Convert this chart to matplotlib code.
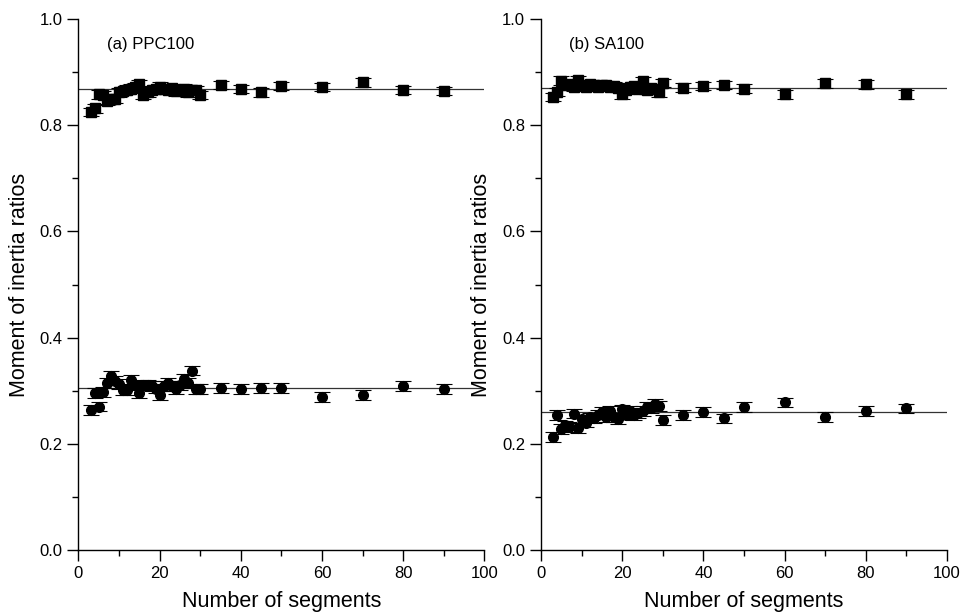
import numpy as np
import matplotlib
matplotlib.use("Agg")
import matplotlib.pyplot as plt
from matplotlib.ticker import MultipleLocator

plt.rcParams['font.family'] = ['Liberation Sans', 'DejaVu Sans']

# ---- data ----
seg_a = [3, 4, 5, 6, 7, 8, 9, 10, 11, 12, 13, 14, 15, 16, 17, 18, 19, 20,
         21, 22, 23, 24, 25, 26, 27, 28, 29, 30, 35, 40, 45, 50, 60, 70, 80, 90]
ppc_high = [0.825, 0.832, 0.858, 0.857, 0.846, 0.849, 0.850, 0.862, 0.865, 0.867,
            0.869, 0.872, 0.878, 0.857, 0.862, 0.866, 0.868, 0.873, 0.868, 0.866,
            0.870, 0.864, 0.867, 0.869, 0.862, 0.866, 0.866, 0.857, 0.876, 0.868,
            0.862, 0.874, 0.872, 0.881, 0.866, 0.865]
ppc_high_err = [0.008] * len(seg_a)
ppc_low = [0.264, 0.296, 0.270, 0.298, 0.315, 0.328, 0.319, 0.313, 0.301, 0.301,
           0.321, 0.310, 0.295, 0.311, 0.311, 0.309, 0.304, 0.292, 0.309, 0.315,
           0.309, 0.303, 0.310, 0.323, 0.315, 0.338, 0.303, 0.303, 0.305, 0.303,
           0.305, 0.305, 0.288, 0.292, 0.309, 0.303]
ppc_low_err = [0.009] * len(seg_a)
ppc_high_mean = 0.868
ppc_low_mean = 0.305

seg_b = [3, 4, 5, 6, 7, 8, 9, 10, 11, 12, 13, 14, 15, 16, 17, 18, 19, 20,
         21, 22, 23, 24, 25, 26, 27, 28, 29, 30, 35, 40, 45, 50, 60, 70, 80, 90]
sa_high = [0.853, 0.863, 0.884, 0.875, 0.878, 0.872, 0.885, 0.876, 0.872, 0.878,
           0.876, 0.872, 0.875, 0.876, 0.872, 0.874, 0.870, 0.858, 0.866, 0.872,
           0.874, 0.868, 0.883, 0.866, 0.870, 0.868, 0.862, 0.880, 0.871, 0.874,
           0.876, 0.869, 0.858, 0.879, 0.877, 0.858]
sa_high_err = [0.008] * len(seg_b)
sa_low = [0.213, 0.254, 0.228, 0.235, 0.232, 0.257, 0.230, 0.246, 0.240, 0.250,
          0.248, 0.255, 0.260, 0.250, 0.262, 0.250, 0.246, 0.265, 0.255, 0.262,
          0.254, 0.258, 0.262, 0.270, 0.268, 0.275, 0.271, 0.245, 0.254, 0.260,
          0.248, 0.269, 0.278, 0.251, 0.262, 0.267]
sa_low_err = [0.009] * len(seg_b)
sa_high_mean = 0.870
sa_low_mean = 0.260

panels = [
    ("(a) PPC100", seg_a, ppc_high, ppc_high_err, ppc_low, ppc_low_err, ppc_high_mean, ppc_low_mean),
    ("(b) SA100", seg_b, sa_high, sa_high_err, sa_low, sa_low_err, sa_high_mean, sa_low_mean),
]

fig = plt.figure(figsize=(9.62, 6.16), dpi=100)
ax_pos = [[0.0816, 0.107, 0.422, 0.862], [0.5624, 0.107, 0.422, 0.862]]

for pos, (title, x, hi, hi_err, lo, lo_err, hi_mean, lo_mean) in zip(ax_pos, panels):
    ax = fig.add_axes(pos)
    ax.errorbar(x, hi, yerr=hi_err, fmt='s', color='black', ms=7.5, capsize=5.5,
                elinewidth=0.8, capthick=0.8, zorder=3)
    ax.errorbar(x, lo, yerr=lo_err, fmt='o', color='black', ms=7, capsize=5.5,
                elinewidth=0.8, capthick=0.8, zorder=3)
    ax.plot([0, 100], [hi_mean, hi_mean], color='#333333', lw=0.9, zorder=2)
    ax.plot([0, 100], [lo_mean, lo_mean], color='#333333', lw=0.9, zorder=2)

    ax.set_xlim(0, 100)
    ax.set_ylim(0, 1.0)
    ax.xaxis.set_major_locator(MultipleLocator(20))
    ax.xaxis.set_minor_locator(MultipleLocator(10))
    ax.yaxis.set_major_locator(MultipleLocator(0.2))
    ax.yaxis.set_minor_locator(MultipleLocator(0.1))
    ax.yaxis.set_major_formatter(matplotlib.ticker.FormatStrFormatter('%.1f'))
    ax.tick_params(which='major', direction='out', length=8, width=1, labelsize=12)
    ax.tick_params(which='minor', direction='out', length=4, width=1)
    for s in ['top', 'right']:
        ax.spines[s].set_visible(False)
    for s in ['left', 'bottom']:
        ax.spines[s].set_linewidth(1)

    ax.set_xlabel("Number of segments", fontsize=15.5, labelpad=7)
    ax.set_ylabel("Moment of inertia ratios", fontsize=15.5, labelpad=7)
    ax.text(7, 0.952, title, fontsize=12, ha='left', va='center')

fig.savefig("out.png", dpi=100)
